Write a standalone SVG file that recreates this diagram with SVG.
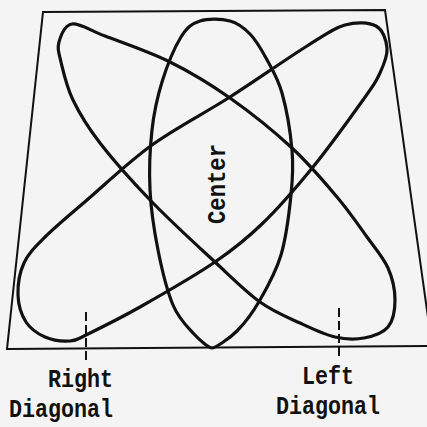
<svg xmlns="http://www.w3.org/2000/svg" width="427" height="427" viewBox="0 0 427 427">
  <style>
    .loop { fill: none; stroke: #111; stroke-width: 3.2; stroke-linejoin: round; }
    .frame { fill: none; stroke: #111; stroke-width: 2; }
    .tick { stroke: #111; stroke-width: 2; stroke-dasharray: 9 4; }
    .lbl { font-family: "Liberation Mono", "DejaVu Sans Mono", monospace; font-weight: bold; font-size: 25px; fill: #111; }
  </style>
  <rect width="427" height="427" fill="#f4f4f4"/>
  <g id="frame">
    <polygon class="frame" points="43,12 385,10 432,346 7,349"/>
  </g>
  <g id="left-diagonal-loop">
    <path class="loop" d="M59,42 C60.8,35.7 64.3,25 72,24 C79.7,23 88.7,29.7 105,36 C121.3,42.3 149.2,51.7 170,62 C190.8,72.3 209.7,83.7 230,98 C250.3,112.3 274.2,131.5 292,148 C309.8,164.5 324.5,182.2 337,197 C349.5,211.8 358.5,225.2 367,237 C375.5,248.8 383.3,257.5 388,268 C392.7,278.5 395,290.2 395,300 C395,309.8 393.2,320.7 388,327 C382.8,333.3 372.8,336.3 364,338 C355.2,339.7 345.7,339.5 335,337 C324.3,334.5 312.5,328.8 300,323 C287.5,317.2 274.2,312.2 260,302 C245.8,291.8 232.8,278.5 215,262 C197.2,245.5 172.2,222.8 153,203 C133.8,183.2 113.3,160.2 100,143 C86.7,125.8 79.5,113.5 73,100 C66.5,86.5 63.3,71.7 61,62 C58.7,52.3 57.2,48.3 59,42 Z"/>
  </g>
  <g id="right-diagonal-loop">
    <path class="loop" d="M18,295 C18.3,304.8 21.5,315 26,322 C30.5,329 37.7,333.8 45,337 C52.3,340.2 62.8,341.5 70,341 C77.2,340.5 76.3,339.7 88,334 C99.7,328.3 118.8,319 140,307 C161.2,295 194.5,276 215,262 C235.5,248 246.7,238.8 263,223 C279.3,207.2 296.3,187.5 313,167 C329.7,146.5 351.8,115.7 363,100 C374.2,84.3 376,81.7 380,73 C384,64.3 387.7,55.8 387,48 C386.3,40.2 383,29.8 376,26 C369,22.2 356.5,21.7 345,25 C333.5,28.3 326.2,34 307,46 C287.8,58 255.8,80.5 230,97 C204.2,113.5 175.8,127.8 152,145 C128.2,162.2 104.8,184.7 87,200 C69.2,215.3 55.5,226.5 45,237 C34.5,247.5 28.5,253.3 24,263 C19.5,272.7 17.7,285.2 18,295 Z"/>
  </g>
  <g id="center-loop">
    <path class="loop" d="M200,21 C208.2,18.3 221.7,18.8 230,21 C238.3,23.2 244,27.8 250,34 C256,40.2 260.7,48.2 266,58 C271.3,67.8 277.7,77.7 282,93 C286.3,108.3 290.5,133 292,150 C293.5,167 292.8,177.5 291,195 C289.2,212.5 286.2,237.5 281,255 C275.8,272.5 267.3,287.3 260,300 C252.7,312.7 245,323 237,331 C229,339 215,348 212,348 C209,348 199.5,340.2 193,333 C186.5,325.8 178.8,318.8 173,305 C167.2,291.2 161.8,269.2 158,250 C154.2,230.8 151,210 150,190 C149,170 150,148 152,130 C154,112 157.2,97.5 162,82 C166.8,66.5 174.7,47.2 181,37 C187.3,26.8 191.8,23.7 200,21 Z"/>
    <text class="lbl" transform="translate(225,224) rotate(-90)" x="0" y="0" font-size="28" textLength="80" lengthAdjust="spacingAndGlyphs">Center</text>
  </g>
  <g id="connectors">
    <line class="tick" x1="86" y1="312" x2="86" y2="363"/>
    <line class="tick" x1="339" y1="308" x2="339" y2="358"/>
  </g>
  <g id="right-label">
    <text class="lbl" x="48" y="387" textLength="65" lengthAdjust="spacingAndGlyphs">Right</text>
    <text class="lbl" x="9" y="417" textLength="104" lengthAdjust="spacingAndGlyphs">Diagonal</text>
  </g>
  <g id="left-label">
    <text class="lbl" x="302" y="384" textLength="52" lengthAdjust="spacingAndGlyphs">Left</text>
    <text class="lbl" x="276" y="414" textLength="104" lengthAdjust="spacingAndGlyphs">Diagonal</text>
  </g>
</svg>
